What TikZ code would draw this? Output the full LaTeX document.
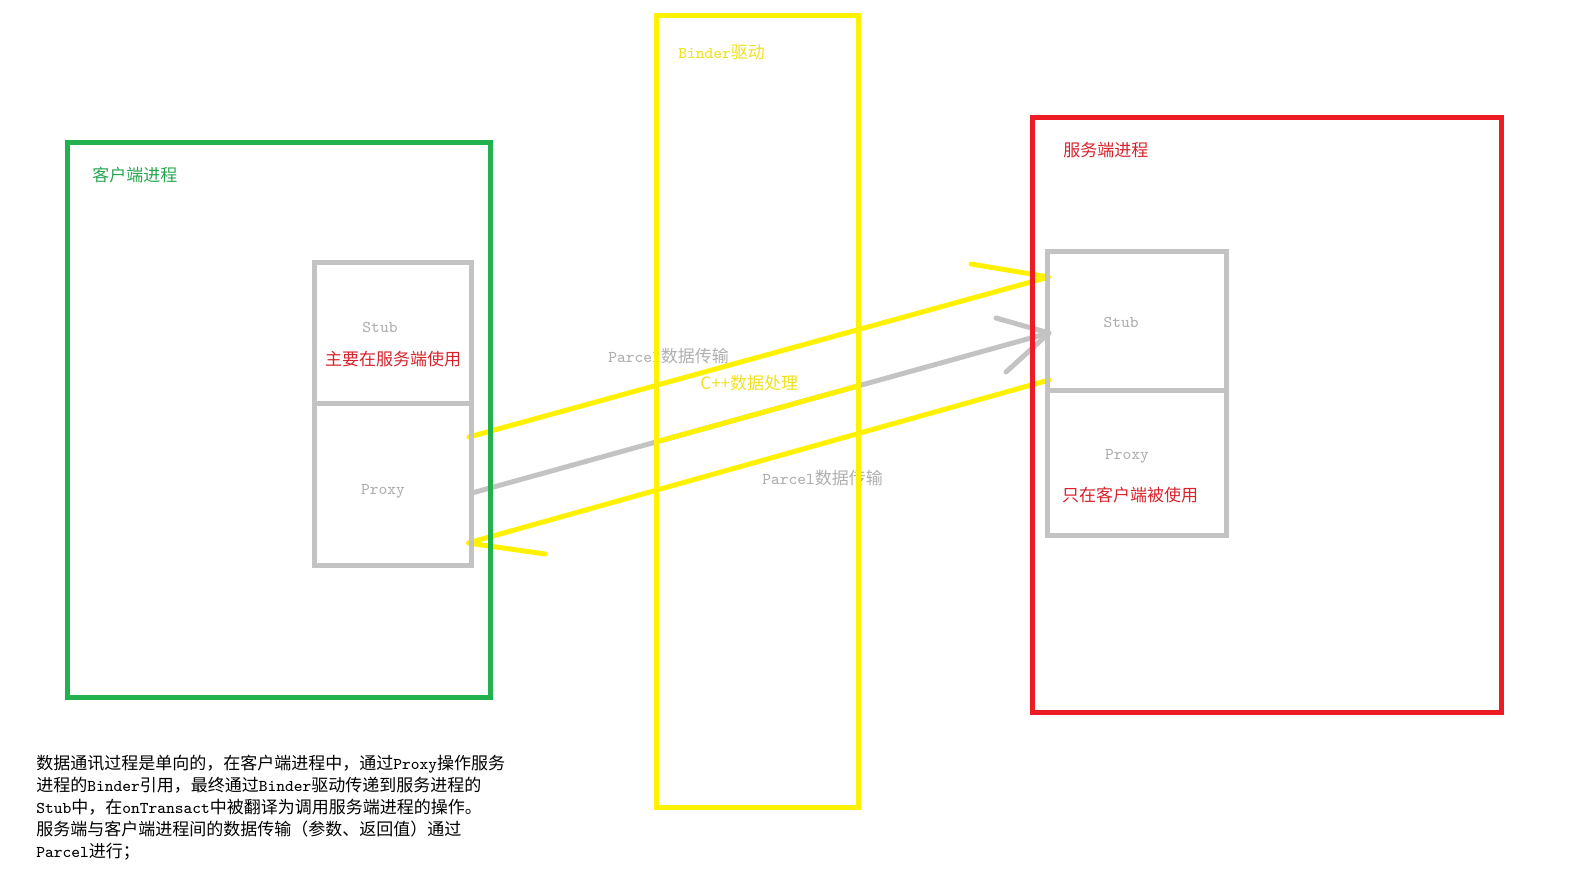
\documentclass[tikz,border=0pt]{standalone}
\usepackage{fontspec}
\setmainfont{Noto Sans CJK SC}
\setmonofont{Latin Modern Mono}[Scale=0.97]
\newcommand\latn[1]{{\ttfamily #1}}
\usetikzlibrary{fit,calc}
\definecolor{pgreen}{RGB}{34,177,76}
\definecolor{pyellow}{RGB}{255,242,0}
\definecolor{pred}{RGB}{237,28,36}
\definecolor{pgray}{RGB}{195,195,195}
\definecolor{tgray}{RGB}{175,175,175}
\definecolor{tyellow}{RGB}{240,225,30}
\definecolor{tgreen}{RGB}{40,165,80}
\definecolor{tred}{RGB}{215,35,45}
\tikzset{
  bigbox/.style={draw, line width=2.5pt, inner sep=0pt},
  smallbox/.style={draw=pgray, line width=2.5pt, inner sep=0pt},
  lbl/.style={inner sep=0pt, font=\fontsize{8.5pt}{11pt}\selectfont},
  ylink/.style={draw=pyellow, line width=2.5pt, line cap=round, line join=round},
  glink/.style={draw=pgray, line width=2.5pt, line cap=round, line join=round},
}
\begin{document}
\begin{tikzpicture}[x=0.5pt,y=-0.5pt]
\useasboundingbox (0,0) rectangle (1569,882);
% texts
\node[lbl, text=tgreen, anchor=west] (tclient) at (92,175) {客户端进程};
\node[lbl, text=tred, anchor=west] (tserver) at (1063,150) {服务端进程};
\node[lbl, text=tyellow, anchor=west] (tbinder) at (678,52) {\latn{Binder}驱动};
\node[lbl, text=tgray] (lstub) at (380,327) {\latn{Stub}};
\node[lbl, text=tred] (lstubnote) at (393,359) {主要在服务端使用};
\node[lbl, text=tgray] (lproxy) at (383,491) {\latn{Proxy}};
\node[lbl, text=tgray] (rstub) at (1121,322) {\latn{Stub}};
\node[lbl, text=tgray] (rproxy) at (1127,456) {\latn{Proxy}};
\node[lbl, text=tred] (rproxynote) at (1130,495) {只在客户端被使用};
\node[lbl, text=tgray, anchor=west] (parcel1) at (608,356) {\latn{Parcel}数据传输};
\node[lbl, text=tyellow, anchor=west] (cpp) at (700,383) {C++数据处理};
\node[lbl, text=tgray, anchor=west] (parcel2) at (762,478) {\latn{Parcel}数据传输};
\node[lbl, anchor=base west] (note1) at (36,769) {数据通讯过程是单向的，在客户端进程中，通过\latn{Proxy}操作服务};
\node[lbl, anchor=base west] (note2) at (36,791) {进程的\latn{Binder}引用，最终通过\latn{Binder}驱动传递到服务进程的};
\node[lbl, anchor=base west] (note3) at (36,813) {\latn{Stub}中，在\latn{onTransact}中被翻译为调用服务端进程的操作。};
\node[lbl, anchor=base west] (note4) at (36,835) {服务端与客户端进程间的数据传输（参数、返回值）通过};
\node[lbl, anchor=base west] (note5) at (36,857) {\latn{Parcel}进行；};
% link end points
\coordinate (y1s) at (469,437);
\coordinate (y1e) at (1049,277);
\coordinate (y1b) at (971,264);
\coordinate (gs) at (472,493);
\coordinate (ge) at (1049,333);
\coordinate (gb1) at (996,318);
\coordinate (gb2) at (1006,372);
\coordinate (y3s) at (1049,380);
\coordinate (y3e) at (468,543);
\coordinate (y3b) at (545,554);
% links
\draw[ylink] (y1s) -- (y1e) -- (y1b);
\draw[glink] (gs) -- (ge);
\draw[glink] (gb1) -- (ge) -- (gb2);
\draw[ylink] (y3s) -- (y3e) -- (y3b);
\coordinate (gin) at ($(gs)!0.318!(ge)$);
\coordinate (gout) at ($(gs)!0.668!(ge)$);
\draw[ylink, line cap=butt] (gin) -- (gout);
% big boxes
\node[bigbox, draw=pyellow, fit={(656,16)(858,807)}] (binder) {};
\node[bigbox, draw=pgreen, fit={(67,143)(490,697)}] (client) {};
\node[bigbox, draw=pred, fit={(1032,118)(1501,712)}] (server) {};
% small boxes
\node[smallbox, fit={(314,263)(471,565)}] (lbox) {};
\coordinate (ldivl) at (314,403);
\coordinate (ldivr) at (471,403);
\draw[draw=pgray, line width=2.5pt] (ldivl) -- (ldivr);
\node[smallbox, fit={(1047,252)(1226,535)}] (rbox) {};
\coordinate (rdivl) at (1047,390);
\coordinate (rdivr) at (1226,390);
\draw[draw=pgray, line width=2.5pt] (rdivl) -- (rdivr);
\end{tikzpicture}
\end{document}
